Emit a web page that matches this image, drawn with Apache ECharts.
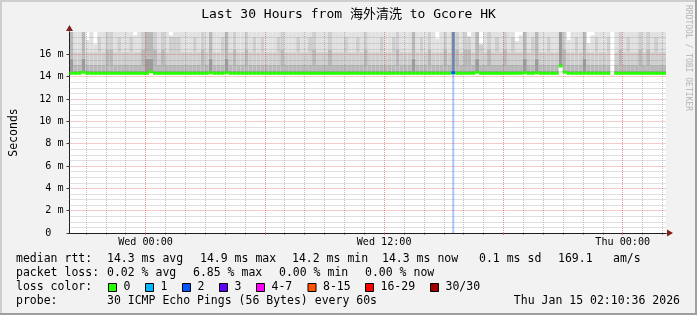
<!DOCTYPE html>
<html><head><meta charset="utf-8">
<script src="https://cdn.jsdelivr.net/npm/echarts@6/dist/echarts.min.js"></script>
<style>html,body{margin:0;padding:0;background:#f2f2f2}#c{width:697px;height:315px}</style>
</head><body><div id="c"></div>
<script>
// ---------------- data ----------------
const titleText = 'Last 30 Hours from 海外清洗 to Gcore HK';
const startHour = 20.1767;   // Tue 20:10:36 (hours since Tue 00:00)
const endHour = 50.1767;     // Thu 02:10:36
const sampleCount = 150;     // one sample every 12 minutes
const yTickValues = [0, 2, 4, 6, 8, 10, 12, 14, 16];
const xTickValues = [24, 36, 48];
const xTickLabels = ['Wed 00:00', 'Wed 12:00', 'Thu 00:00'];

// median RTT per sample (ms)
const medianRtt = [
14.3,14.3,14.3,14.4,14.3,14.3,14.3,14.3,14.3,14.3,
14.3,14.3,14.3,14.3,14.3,14.3,14.3,14.3,14.3,14.3,
14.45,14.3,14.3,14.3,14.3,14.3,14.3,14.3,14.3,14.3,
14.3,14.3,14.3,14.3,14.3,14.35,14.3,14.3,14.3,14.35,
14.3,14.3,14.3,14.3,14.3,14.3,14.3,14.3,14.3,14.3,
14.3,14.3,14.3,14.3,14.3,14.3,14.3,14.3,14.3,14.3,
14.3,14.3,14.3,14.3,14.3,14.3,14.3,14.3,14.3,14.3,
14.3,14.3,14.3,14.3,14.3,14.3,14.3,14.3,14.3,14.3,
14.3,14.3,14.3,14.3,14.3,14.3,14.3,14.3,14.3,14.3,
14.3,14.3,14.3,14.3,14.3,14.3,14.35,14.3,14.3,14.3,
14.3,14.3,14.4,14.3,14.3,14.3,14.3,14.3,14.3,14.3,
14.3,14.3,14.3,14.3,14.35,14.3,14.3,14.35,14.3,14.3,
14.3,14.3,14.3,14.95,14.4,14.3,14.3,14.3,14.3,14.3,
14.3,14.3,14.3,14.3,14.3,14.3,null,14.3,14.3,14.3,
14.3,14.3,14.3,14.3,14.3,14.3,14.3,14.3,14.3,14.3];

// 60th percentile ping (ms)
const q60 = [
15.6,14.5,14.5,15.6,14.5,14.5,14.5,14.5,14.5,14.5,
14.5,14.5,14.5,14.5,14.5,14.5,14.5,14.5,14.5,15.6,
15.6,14.5,14.5,14.5,14.5,14.5,14.5,14.5,14.5,14.5,
14.5,14.5,14.5,14.5,14.5,15.6,14.5,14.5,14.5,15.6,
14.5,14.5,14.5,14.5,14.5,14.5,14.5,14.5,14.5,14.5,
14.5,14.5,14.5,14.5,14.5,14.5,14.5,14.5,14.5,14.5,
14.5,14.5,14.5,14.5,14.5,14.5,14.5,14.5,14.5,14.5,
14.5,14.5,14.5,14.5,14.5,14.5,14.5,14.5,14.5,14.5,
14.5,14.5,14.5,14.5,14.5,14.5,15.6,14.5,14.5,14.5,
14.5,14.5,14.5,14.5,14.5,14.5,18,14.5,14.5,14.5,
14.5,14.5,15.6,14.5,14.5,14.5,14.5,14.5,14.5,14.5,
14.5,14.5,14.5,14.5,15.6,14.5,14.5,15.6,14.5,14.5,
14.5,14.5,14.5,18,14.5,14.5,14.5,14.5,14.5,15.6,
14.5,14.5,14.5,14.5,14.5,14.5,null,14.5,14.5,14.5,
14.5,14.5,14.5,14.5,14.5,14.5,14.5,14.5,14.5,14.5];

// 80th percentile ping (ms)
const q80 = [
18,15.1,15.1,18,15.1,15.1,15.1,15.1,15.1,16.4,
16.4,15.1,15.1,15.1,15.1,15.1,15.1,15.1,16.4,18,
18,16.4,15.1,16.4,15.1,15.1,15.1,15.1,15.1,15.1,
15.1,15.1,15.1,16.4,15.1,18,15.1,15.1,15.1,18,
15.1,16.4,15.1,15.1,16.4,15.1,15.1,15.1,15.1,15.1,
15.1,15.1,15.1,16.4,15.1,15.1,15.1,15.1,15.1,15.1,
15.1,16.4,15.1,15.1,15.1,16.4,15.1,15.1,15.1,15.1,
15.1,15.1,15.1,15.1,16.4,15.1,15.1,15.1,15.1,15.1,
15.1,15.1,16.4,15.1,15.1,15.1,18,15.1,15.1,15.1,
16.4,15.1,15.1,15.1,16.4,15.1,18,16.4,15.1,16.4,
16.4,15.1,18,15.1,15.1,16.4,15.1,15.1,15.1,16.4,
15.1,15.1,15.1,15.1,18,15.1,15.1,18,15.1,15.1,
15.1,15.1,15.1,18,16.4,15.1,15.1,15.1,15.1,18,
15.1,15.1,15.1,15.1,15.1,15.1,null,15.1,16.4,15.1,
15.1,15.1,15.1,16.4,15.1,16.4,15.1,15.1,15.1,15.1];

// 95th percentile ping (ms)
const q95 = [
18,16.2,16.2,18,16.2,16.2,16.2,17.6,16.2,18,
18,16.2,17.6,16.2,16.2,17.6,16.2,16.2,18,18,
18,18,16.2,18,16.2,17.6,17.6,17.6,16.2,16.2,
16.2,17.6,16.2,18,16.2,18,16.2,16.2,17.6,18,
16.2,18,16.2,16.2,18,16.2,17.6,16.2,17.6,16.2,
16.2,16.2,17.6,18,16.2,16.2,16.2,17.6,16.2,16.2,
17.6,18,16.2,16.2,16.2,18,16.2,16.2,16.2,17.6,
16.2,16.2,17.6,16.2,18,16.2,16.2,16.2,17.6,16.2,
16.2,17.6,18,16.2,16.2,16.2,18,16.2,17.6,16.2,
18,16.2,16.2,16.2,18,16.2,18,18,16.2,18,
17.6,16.2,18,16.9,16.2,18,16.2,17.6,16.2,18,
16.2,17.6,16.2,16.2,18,16.2,17.6,18,16.2,16.2,
17.6,16.2,16.2,18,18,16.2,16.2,17.6,16.2,18,
16.2,16.2,17.6,16.2,16.2,17.6,null,16.2,18,16.2,
17.6,16.2,16.2,18,16.2,18,16.2,17.6,16.2,16.2];

// highest ping per sample, as far as the 18 ms axis shows (ms)
const maxRtt = [
18,18,18,18,17.3,18,16.9,18,18,18,
18,18,18,18,18,18,17.7,18,18,18,
18,18,18,18,18,17.7,18,18,18,18,
18,18,18,18,18,18,18,18,18,18,
18,18,18,18,18,18,18,18,18,18,
18,18,18,18,18,18,18,18,18,18,
18,18,18,18,18,18,18,18,18,18,
18,18,18,18,18,18,18,18,18,18,
18,18,18,18,18,18,18,18,18,18,
18,18,17.4,18,18,18,18,18,18,18,
17.6,18,18,16.9,18,18,18,18,18,18,
18,18,17.2,17.7,18,18,18,18,18,18,
18,18,18,18,18,17.3,18,18,18,18,
17.0,17.7,18,18,18,18,null,18,18,18,
18,18,18,18,18,18,18,18,18,18];

// lost pings (of 30) per sample
const lossPings = [
0,0,0,0,0,0,0,0,0,0, 0,0,0,0,0,0,0,0,0,0,
0,0,0,0,0,0,0,0,0,0, 0,0,0,0,0,0,0,0,0,0,
0,0,0,0,0,0,0,0,0,0, 0,0,0,0,0,0,0,0,0,0,
0,0,0,0,0,0,0,0,0,0, 0,0,0,0,0,0,0,0,0,0,
0,0,0,0,0,0,0,0,0,0, 0,0,0,0,0,0,2,0,0,0,
0,0,0,0,0,0,0,0,0,0, 0,0,0,0,0,0,0,0,0,0,
0,0,0,0,0,0,0,0,0,0, 0,0,0,0,0,0,0,0,0,0,
0,0,0,0,0,0,0,0,0,0];

const lossLegendLabels = ['0', '1', '2', '3', '4-7', '8-15', '16-29', '30/30'];
const lossLegendColors = ['#26ff00', '#00b8ff', '#0059ff', '#5e00ff', '#ff00ff', '#ff5500', '#ff0000', '#a00000'];
const rttLegend = ['median rtt:', '14.3 ms avg', '14.9 ms max', '14.2 ms min', '14.3 ms now', '0.1 ms sd', '169.1', 'am/s'];
const lossLegend = ['packet loss:', '0.02 % avg', '6.85 % max', '0.00 % min', '0.00 % now'];
const probeLegend = ['probe:', '30 ICMP Echo Pings (56 Bytes) every 60s'];
const stampText = 'Thu Jan 15 02:10:36 2026';
const lossColorLabel = 'loss color:';
const watermark = 'RRDTOOL / TOBI OETIKER';

// ---------------- layout ----------------
const rttX = [16, 107, 200, 292, 382, 479, 558, 613];
const lossX = [16, 107, 193, 279, 365];
const boxX = [108, 145, 182, 219, 256, 307.5, 365, 430];
const MONO = "'DejaVu Sans Mono', 'Noto Sans CJK SC', monospace";
const MEDIAN_HALF = 0.135; // half thickness of the median trace, in axis units (about 1.5 px)

const cats = [];
for (let i = 0; i < sampleCount; i++) cats.push(i);
function diff(a, b) { return a.map((v, i) => (v == null || b[i] == null) ? null : Math.max(0, +(v - b[i]).toFixed(3))); }
const smokeBase = medianRtt.slice();
const band1 = diff(q60, medianRtt);
const band2 = diff(q80, q60);
const band3 = diff(q95, q80);
const band4 = diff(maxRtt, q95);
const bandColors = ['#9c9c9c', '#b9b9b9', '#cfcfcf', '#e1e1e1'];

function lossColor(n) {
  if (n <= 3) return lossLegendColors[n];
  if (n <= 7) return lossLegendColors[4];
  if (n <= 15) return lossLegendColors[5];
  if (n <= 29) return lossLegendColors[6];
  return lossLegendColors[7];
}
const medLow = medianRtt.map(v => v == null ? null : +(v - MEDIAN_HALF).toFixed(3));
const medBand = medianRtt.map((v, i) => v == null ? null : { value: 2 * MEDIAN_HALF, itemStyle: { color: lossColor(lossPings[i]) } });

function bandSeries(data, color, axis, stack, z) {
  return { type: 'bar', xAxisIndex: axis, yAxisIndex: 0, stack: stack, data: data,
    barWidth: '100%', barCategoryGap: '0%', silent: true, z: z,
    itemStyle: { color: color }, animation: false };
}

const minorStyle = { type: 'dotted', color: 'rgba(143,143,143,0.55)', width: 1 };
const majorStyle = { type: 'dotted', color: 'rgba(222,79,79,0.6)', width: 1 };
const gridLines = [];
const hourTicksMinor = [];
const hourTicksMajor = [];
for (let h = Math.ceil(startHour); h <= Math.floor(endHour); h++) {
  gridLines.push({ xAxis: h, lineStyle: (h % 6 === 0) ? majorStyle : minorStyle });
  if (h % 6 === 0) hourTicksMajor.push(h); else hourTicksMinor.push(h);
}
for (let k = 1; k <= 35; k++) {
  const v = k * 0.5;
  gridLines.push({ yAxis: v, lineStyle: (v % 2 === 0) ? majorStyle : minorStyle });
}

const lossBars = lossPings.map(v => v > 0 ? 18 : null);

const graphics = [
  { type: 'rect', shape: { x: 0, y: 0, width: 697, height: 2 }, style: { fill: '#cecece' } },
  { type: 'rect', shape: { x: 0, y: 0, width: 2, height: 315 }, style: { fill: '#cecece' } },
  { type: 'rect', shape: { x: 0, y: 313, width: 697, height: 2 }, style: { fill: '#9e9e9e' } },
  { type: 'rect', shape: { x: 695, y: 0, width: 2, height: 315 }, style: { fill: '#9e9e9e' } },
  { type: 'text', x: 348.5, y: 15, style: { text: titleText, font: '13px ' + MONO, fill: '#000', align: 'center', verticalAlign: 'middle' } },
  { type: 'text', x: 688, y: 5, rotation: -Math.PI / 2, style: { text: watermark, font: '8px ' + MONO, fill: '#b4b4b4', align: 'left', verticalAlign: 'middle' } }
];
function addText(x, y, t, align) {
  graphics.push({ type: 'text', x: x, y: y, style: { text: t, font: '11.5px ' + MONO, fill: '#000', align: align || 'left', verticalAlign: 'middle' } });
}
rttLegend.forEach((t, i) => addText(rttX[i], 259, t));
lossLegend.forEach((t, i) => addText(lossX[i], 273, t));
addText(16, 287, lossColorLabel);
lossLegendLabels.forEach((t, i) => {
  graphics.push({ type: 'rect', shape: { x: boxX[i] + 0.5, y: 283.5, width: 8, height: 8 }, style: { fill: lossLegendColors[i], stroke: '#000', lineWidth: 1 } });
  addText(boxX[i] + 15.5, 287, t);
});
addText(16, 301, probeLegend[0]);
addText(107, 301, probeLegend[1]);
addText(680, 301, stampText, 'right');

const hiddenCat = { type: 'category', position: 'bottom', data: cats, boundaryGap: true, show: false };
const option = {
  backgroundColor: '#f2f2f2',
  animation: false,
  grid: { left: 66, right: 31, top: 32, bottom: 82, show: true, backgroundColor: '#ffffff', borderWidth: 0 },
  xAxis: [
    Object.assign({}, hiddenCat),
    { type: 'value', position: 'bottom', min: startHour, max: endHour, z: 3,
      axisLine: { show: true, onZero: false, lineStyle: { color: '#1f1f1f', width: 1 } },
      axisTick: { show: true, customValues: hourTicksMajor, length: 2, lineStyle: { color: 'rgba(222,79,79,0.8)' } },
      splitLine: { show: false },
      axisLabel: { customValues: xTickValues, margin: 4, color: '#000', fontFamily: MONO, fontSize: 10.1,
        formatter: v => { const i = xTickValues.indexOf(v); return i >= 0 ? xTickLabels[i] : ''; } } },
    Object.assign({}, hiddenCat),
    { type: 'value', position: 'bottom', min: startHour, max: endHour, z: 1,
      axisLine: { show: true, onZero: false, symbol: ['none', 'triangle'], symbolSize: [7, 6], symbolOffset: [0, 4], lineStyle: { color: '#801f1f' } },
      axisTick: { show: true, customValues: hourTicksMinor, length: 2, lineStyle: { color: 'rgba(143,143,143,0.8)' } },
      axisLabel: { show: false }, splitLine: { show: false } },
    Object.assign({}, hiddenCat)
  ],
  yAxis: [
    { type: 'value', position: 'left', min: 0, max: 18, interval: 2, z: 3,
      axisLine: { show: true, onZero: false, lineStyle: { color: '#1f1f1f', width: 1 } },
      axisTick: { show: true, length: 3, lineStyle: { color: '#3a3a3a' } }, splitLine: { show: false },
      axisLabel: { margin: 6, color: '#000', fontFamily: MONO, fontSize: 10.1, showMaxLabel: false,
        formatter: v => yTickValues.indexOf(v) < 0 ? '' : (v === 0 ? '0  ' : v + ' m') },
      name: 'Seconds', nameLocation: 'middle', nameGap: 50, nameRotate: 90,
      nameTextStyle: { color: '#000', fontFamily: MONO, fontSize: 11.5 } },
    { type: 'value', position: 'left', min: 0, max: 18, z: 1,
      axisLine: { show: true, onZero: false, symbol: ['none', 'triangle'], symbolSize: [7, 6], symbolOffset: [0, 4], lineStyle: { color: '#801f1f' } },
      axisTick: { show: false }, axisLabel: { show: false }, splitLine: { show: false } }
  ],
  graphic: graphics,
  series: [
    bandSeries(smokeBase, 'rgba(0,0,0,0)', 0, 'smoke', 2),
    bandSeries(band1, bandColors[0], 0, 'smoke', 2),
    bandSeries(band2, bandColors[1], 0, 'smoke', 2),
    bandSeries(band3, bandColors[2], 0, 'smoke', 2),
    bandSeries(band4, bandColors[3], 0, 'smoke', 2),
    { type: 'line', xAxisIndex: 1, yAxisIndex: 0, data: [[startHour, null]], showSymbol: false, z: 3, silent: true,
      markLine: { silent: true, symbol: ['none', 'none'], label: { show: false }, animation: false, data: gridLines } },
    { type: 'bar', xAxisIndex: 2, yAxisIndex: 0, data: lossBars.map((v, i) => v == null ? null : { value: v, itemStyle: { color: lossColor(lossPings[i]), opacity: 0.35 } }),
      barWidth: '50%', silent: true, z: 4 },
    bandSeries(medLow, 'rgba(0,0,0,0)', 4, 'median', 5),
    bandSeries(medBand, '#26ff00', 4, 'median', 5)
  ]
};
const chart = echarts.init(document.getElementById('c'), null, { renderer: 'canvas' });
chart.setOption(option);
</script></body></html>
